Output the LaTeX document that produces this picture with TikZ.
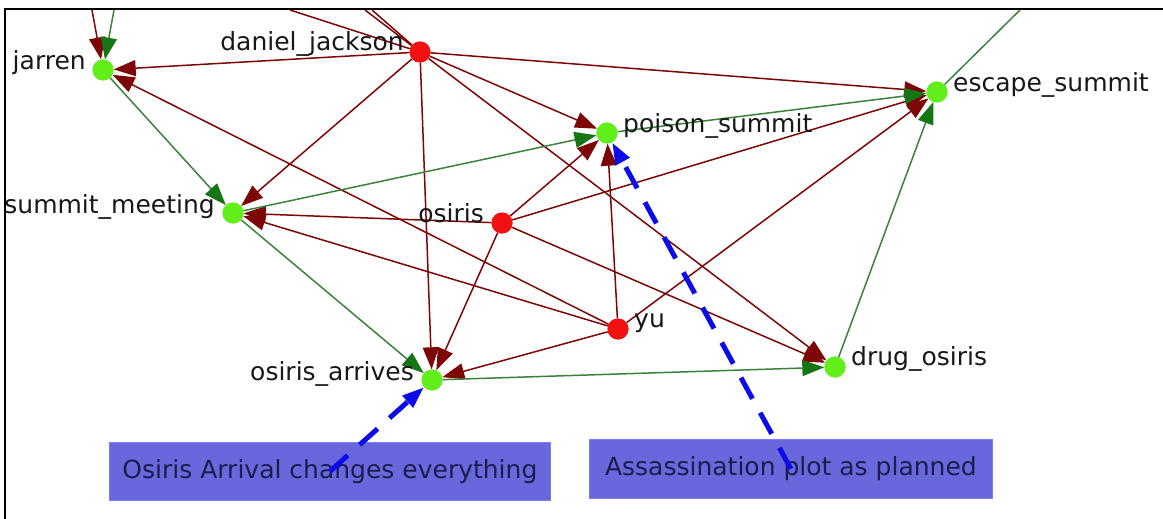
\documentclass[tikz,border=0pt]{standalone}
\usepackage{fontspec}
\setmainfont{DejaVu Sans}
\usetikzlibrary{arrows.meta}
\definecolor{edgered}{RGB}{125,6,6}
\definecolor{edgegreen}{RGB}{60,130,60}
\definecolor{tipgreen}{RGB}{22,118,22}
\definecolor{nodegreen}{RGB}{98,238,26}
\definecolor{nodered}{RGB}{242,16,16}
\definecolor{boxfill}{RGB}{104,104,220}
\definecolor{boxdraw}{RGB}{125,125,245}
\definecolor{boxtext}{RGB}{28,28,78}
\definecolor{dashblue}{RGB}{12,12,232}
\definecolor{labeltext}{RGB}{24,24,24}
\begin{document}
\begin{tikzpicture}[x=1pt,y=-1pt,
  agent/.style={circle,fill=nodered,inner sep=0pt,minimum size=21pt},
  event/.style={circle,fill=nodegreen,inner sep=0pt,minimum size=21pt},
  lbl/.style={font=\fontsize{25}{30}\selectfont,text=labeltext,inner sep=0pt},
  redge/.style={draw=edgered,line width=1.5pt,-{Triangle[length=22pt,width=16pt]}},
  gedge/.style={draw=edgegreen,line width=1.5pt,-{Triangle[length=22pt,width=16pt,color=tipgreen]}},
  rline/.style={draw=edgered,line width=1.5pt},
  gline/.style={draw=edgegreen,line width=1.5pt},
  note/.style={fill=boxfill,draw=boxdraw,line width=0.8pt,text=boxtext,
    font=\fontsize{25}{30}\selectfont,inner sep=0pt,anchor=north west},
  link/.style={draw=dashblue,line width=5pt,dash pattern=on 24pt off 16pt,
    -{Triangle[length=22pt,width=15pt]}}
]
\useasboundingbox (0,0) rectangle (1163,519);
\fill[white] (0,0) rectangle (1163,519);
\draw[line width=2pt] (5,519) -- (5,9) -- (1163,9);

% nodes
\node[event] (jarren) at (103,70) {};
\node[agent] (dj) at (420,52) {};
\node[event] (esc) at (937,92) {};
\node[event] (ps) at (607,133) {};
\node[event] (sm) at (233,213) {};
\node[agent] (os) at (502,223) {};
\node[agent] (yu) at (618,329) {};
\node[event] (oa) at (432,380) {};
\node[event] (drug) at (835,367) {};

% off-canvas ends
\coordinate (tR) at (92,10);
\coordinate (tG) at (114,10);
\coordinate (t1) at (290,10);
\coordinate (t2) at (365,10);
\coordinate (t3) at (372,10);
\coordinate (t4) at (1020,10);

% note boxes
\node[note,minimum width=441pt,minimum height=58pt] (b1) at (109,442) {Osiris Arrival changes everything};
\node[note,minimum width=403pt,minimum height=59pt] (b2) at (589,439) {Assassination plot as planned};

% edges
\draw[rline] (dj) -- (t1);
\draw[rline] (dj) -- (t2);
\draw[rline] (dj) -- (t3);
\draw[gline] (esc) -- (t4);
\draw[redge] (tR) -- (jarren);
\draw[gedge] (tG) -- (jarren);
\draw[redge] (dj) -- (jarren);
\draw[redge] (dj) -- (sm);
\draw[redge] (dj) -- (oa);
\draw[redge] (dj) -- (ps);
\draw[redge] (dj) -- (esc);
\draw[redge] (dj) -- (drug);
\draw[redge] (os) -- (sm);
\draw[redge] (os) -- (ps);
\draw[redge] (os) -- (esc);
\draw[redge] (os) -- (oa);
\draw[redge] (os) -- (drug);
\draw[redge] (yu) -- (jarren);
\draw[redge] (yu) -- (sm);
\draw[redge] (yu) -- (ps);
\draw[redge] (yu) -- (oa);
\draw[redge] (yu) -- (esc);
\draw[gedge] (jarren) -- (sm);
\draw[gedge] (sm) -- (ps);
\draw[gedge] (sm) -- (oa);
\draw[gedge] (oa) -- (drug);
\draw[gedge] (drug) -- (esc);
\draw[gedge] (ps) -- (esc);

% redraw node discs on top of edges
\fill[nodegreen] (jarren) circle (10.5pt);
\fill[nodered] (dj) circle (10.5pt);
\fill[nodegreen] (esc) circle (10.5pt);
\fill[nodegreen] (ps) circle (10.5pt);
\fill[nodegreen] (sm) circle (10.5pt);
\fill[nodered] (os) circle (10.5pt);
\fill[nodered] (yu) circle (10.5pt);
\fill[nodegreen] (oa) circle (10.5pt);
\fill[nodegreen] (drug) circle (10.5pt);

% labels
\node[lbl,anchor=base east] (ljarren) at (86,70) {jarren};
\node[lbl,anchor=base east] (ldj) at (404,51) {daniel\_jackson};
\node[lbl,anchor=base west] (lesc) at (953,92) {escape\_summit};
\node[lbl,anchor=base west] (lps) at (623,132) {poison\_summit};
\node[lbl,anchor=base east] (lsm) at (215,213) {summit\_meeting};
\node[lbl,anchor=base east] (los) at (484,222) {osiris};
\node[lbl,anchor=base west] (lyu) at (634,327) {yu};
\node[lbl,anchor=base east] (loa) at (414,380) {osiris\_arrives};
\node[lbl,anchor=base west] (ldrug) at (851,365) {drug\_osiris};

% dashed links from notes
\draw[link] (b1.center) -- (oa);
\draw[link] (b2.center) -- (ps);
\end{tikzpicture}
\end{document}
